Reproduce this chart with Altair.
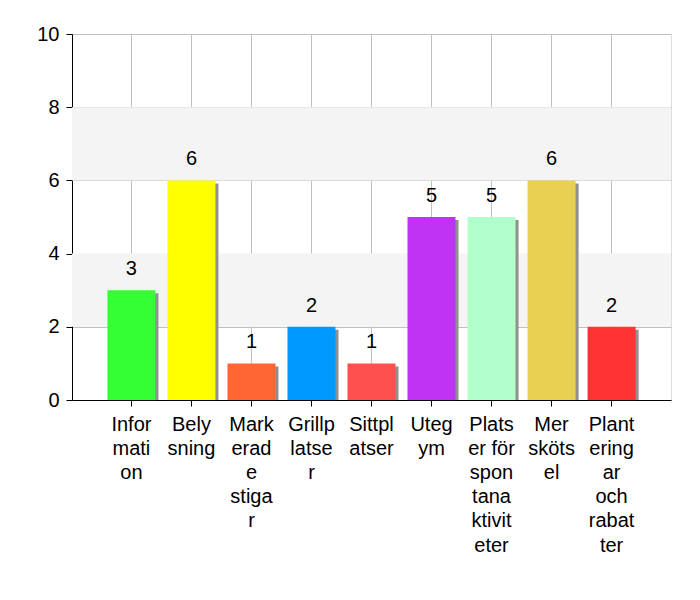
import altair as alt
import pandas as pd

categories = ["Infor|mati|on", "Bely|sning", "Mark|erad|e|stiga|r", "Grillp|latse|r",
              "Sittpl|atser", "Uteg|ym", "Plats|er för|spon|tana|ktivit|eter",
              "Mer|sköts|el", "Plant|ering|ar|och|rabat|ter"]
values = [3, 6, 1, 2, 1, 5, 5, 6, 2]
colors = ["#33FF33", "#FFFF00", "#FF6633", "#0099FF", "#FF4F4F",
          "#C033F5", "#B3FFCC", "#E8D152", "#FF3333"]
band_lo = [2, 6]
band_hi = [4, 8]

df = pd.DataFrame({"cat": categories, "value": values, "color": colors})
bands = pd.DataFrame({"lo": band_lo, "hi": band_hi})

FONT = "Liberation Sans"

xenc = alt.X("cat:N", sort=None, title=None,
             scale=alt.Scale(paddingInner=0.2, paddingOuter=0.59),
             axis=alt.Axis(labelExpr="split(datum.label, '|')", labelAngle=0,
                           labelFontSize=20, labelLineHeight=24.2, labelColor="black",
                           labelFont=FONT, labelPadding=8, labelBaseline="top",
                           domainColor="black", tickColor="black", tickSize=6,
                           grid=True, gridColor="#C0C0C0", labelLimit=0))
yscale = alt.Scale(domain=[0, 10], nice=False)

bg = alt.Chart(bands).mark_rect(color="#F4F4F4").encode(
    y=alt.Y("lo:Q", scale=yscale), y2="hi:Q",
    x=alt.value(0), x2=alt.value(599))

base = alt.Chart(df)

shadow = base.mark_bar(color="#909090", xOffset=3, yOffset=3, clip=True).encode(
    x=xenc, y=alt.Y("value:Q", scale=yscale))

bars = base.mark_bar().encode(
    x=xenc,
    y=alt.Y("value:Q", scale=yscale, title=None,
            axis=alt.Axis(values=[0, 2, 4, 6, 8, 10], labelFontSize=20, labelFont=FONT,
                          labelColor="black", domainColor="black", tickColor="black",
                          tickSize=6, gridColor="#C0C0C0", labelPadding=7)),
    color=alt.Color("color:N", scale=None))

text = base.mark_text(dy=-15, fontSize=20, font=FONT, color="black", baseline="alphabetic").encode(
    x=xenc, y=alt.Y("value:Q", scale=yscale), text="value:Q")

chart = alt.layer(bg, shadow, bars, text).properties(
    width=599, height=366,
    autosize=alt.AutoSizeParams(type="none"),
    padding={"left": 72, "top": 34, "right": 29, "bottom": 200},
).configure_view(stroke="#707070", strokeWidth=1).configure(background="white")

chart.save("out.html", embed_options={"renderer": "svg", "actions": False})
